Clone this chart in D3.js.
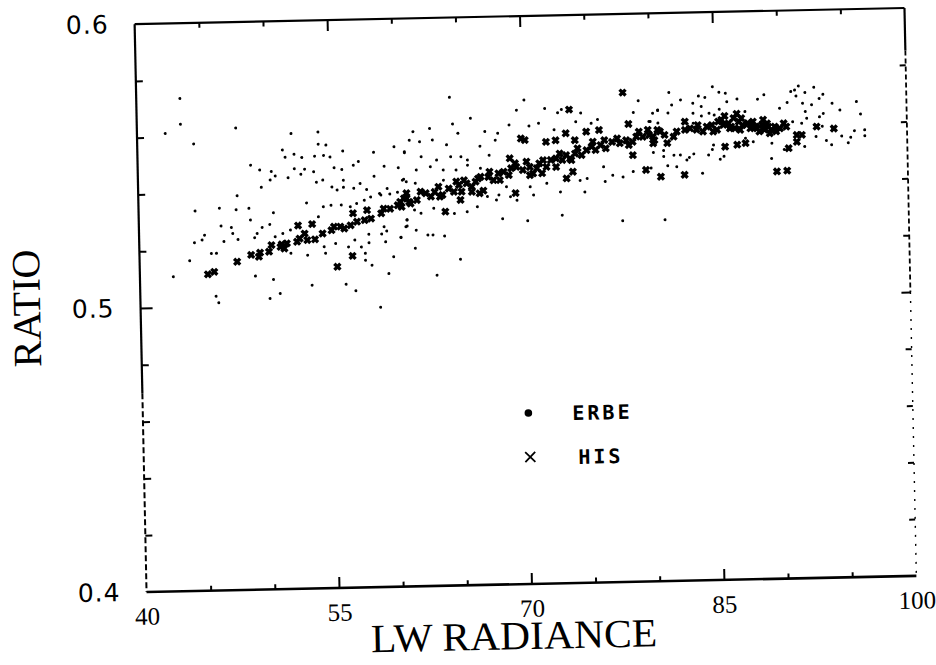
<!DOCTYPE html>
<html>
<head>
<meta charset="utf-8">
<script src="https://cdn.jsdelivr.net/npm/d3@7"></script>
<style>
  html, body { margin: 0; padding: 0; background: #fff; }
  svg { display: block; }
</style>
</head>
<body>
<svg id="chart" width="936" height="665"></svg>
<script>
// ====== LW radiance vs ratio, ERBE / HIS scatter (scanned figure) ======
const xTicks = [40, 55, 70, 85, 100];
const xMajor = [55, 70, 85];
const xMinor = [45, 50, 60, 65, 75, 80, 90, 95];
const yTicks = [0.4, 0.5, 0.6];
const yMinor = [0.42, 0.44, 0.46, 0.48, 0.52, 0.54, 0.56, 0.58];

// ERBE: the wide cloud of small dots  [LW radiance, ratio]
const erbe = [
  [43.4,.5735],[43.4,.5644],[42.2,.5613],[44.4,.5574],[47.7,.5627],[52.0,.5603],[54.1,.5607],[54.1,.5564],
  [54.7,.5560],[51.3,.5546],[52.2,.5530],[51.5,.5520],[52.8,.5518],[53.8,.5522],[54.5,.5524],[55.0,.5518],
  [56.0,.5538],[55.3,.5480],[55.9,.5473],[56.8,.5487],[57.2,.5500],[58.4,.5531],[59.2,.5481],[60.0,.5549],
  [60.3,.5475],[60.8,.5527],[48.8,.5495],[49.5,.5477],[50.4,.5471],[50.7,.5455],[50.3,.5441],[49.6,.5416],
  [51.7,.5448],[52.2,.5479],[52.7,.5459],[53.0,.5477],[53.7,.5467],[53.9,.5430],[54.4,.5437],[55.1,.5412],
  [55.5,.5401],[56.0,.5435],[56.0,.5410],[56.8,.5406],[57.3,.5422],[57.8,.5401],[58.4,.5447],[58.8,.5386],
  [59.4,.5403],[59.6,.5383],[60.2,.5389],[60.6,.5431],[60.9,.5425],[47.7,.5388],[46.3,.5346],[44.4,.5338],
  [48.6,.5343],[47.6,.5339],[46.4,.5283],[47.3,.5256],[47.2,.5277],[48.7,.5302],[49.6,.5275],[50.5,.5326],
  [50.6,.5241],[51.2,.5252],[50.2,.5285],[51.8,.5264],[53.1,.5358],[54.0,.5308],[54.4,.5343],[55.0,.5348],
  [55.8,.5348],[56.5,.5341],[57.0,.5352],[57.6,.5363],[58.1,.5374],[58.9,.5380],[59.1,.5268],[59.3,.5253],
  [58.9,.5243],[57.9,.5243],[57.9,.5213],[60.4,.5229],[60.9,.5269],[60.9,.5290],[45.1,.5252],[44.9,.5235],
  [44.3,.5226],[43.9,.5163],[42.6,.5108],[45.6,.5187],[46.0,.5187],[46.6,.5228],[47.7,.5234],[49.0,.5239],
  [49.2,.5254],[51.8,.5182],[53.1,.5174],[54.5,.5179],[56.05,.5069],[56.8,.5045],[57.6,.5176],[57.6,.5152],
  [58.1,.5134],[59.4,.5103],[59.8,.5162],[59.2,.5215],[58.7,.4985],[53.4,.5068],[50.9,.5041],[50.1,.5024],
  [50.4,.5091],[49.0,.5104],[45.9,.5036],[46.1,.5013],[55.3,.5213],[56.3,.5200],[56.8,.5224],[57.3,.5199],
  [54.4,.5202],
  [64.4,.5719],[70.2,.5704],[69.6,.5669],[71.8,.5673],[72.8,.5657],[73.1,.5668],[74.6,.5654],[79.1,.5693],
  [78.7,.5652],[80.6,.5659],[79.9,.5619],[66.0,.5644],[64.6,.5625],[62.8,.5611],[61.5,.5601],[65.0,.5592],
  [67.1,.5596],[68.1,.5589],[69.0,.5617],[70.55,.5612],[71.3,.5621],[72.5,.5597],[74.2,.5624],[75.4,.5617],
  [75.9,.5630],[61.2,.5571],[62.0,.5565],[63.0,.5570],[64.1,.5552],[66.7,.5545],[67.9,.5565],[60.8,.5531],
  [62.1,.5512],[63.3,.5499],[64.4,.5510],[65.2,.5509],[65.7,.5497],[66.7,.5467],[67.4,.5512],[62.8,.5476],
  [63.8,.5464],[61.7,.5466],[64.8,.5463],[65.7,.5479],[60.7,.5434],[61.6,.5419],[63.8,.5428],[76.3,.5463],
  [77.0,.5433],[77.8,.5426],[78.6,.5444],[75.0,.5423],[74.45,.5417],[74.8,.5376],[76.4,.5411],[72.9,.5378],
  [71.85,.5409],[70.8,.5369],[70.55,.5398],[69.0,.5365],[68.7,.5400],[68.1,.5372],[67.9,.5354],[69.5,.5352],
  [67.2,.5367],[66.4,.5332],[65.6,.5315],[64.6,.5310],[63.0,.5330],[62.0,.5313],[61.5,.5325],[60.9,.5291],
  [60.8,.5267],[61.6,.5254],[62.5,.5236],[62.9,.5236],[63.8,.5231],[60.4,.5230],[61.5,.5190],[65.0,.5148],
  [63.15,.5094],[68.35,.5288],[70.3,.5279],[73.0,.5296],[77.7,.5272],
  [81.5,.5720],[82.4,.5693],[83.8,.5705],[84.3,.5700],[84.9,.5737],[85.4,.5717],[85.9,.5713],[86.8,.5692],
  [86.0,.5683],[83.35,.5680],[84.0,.5668],[81.7,.5676],[80.6,.5657],[80.2,.5648],[81.4,.5648],[83.35,.5645],
  [84.6,.5644],[87.4,.5647],[88.4,.5690],[88.9,.5705],[90.1,.5656],[91.0,.5714],[91.3,.5719],[91.6,.5733],
  [92.1,.5710],[92.8,.5728],[91.4,.5698],[90.7,.5676],[91.9,.5672],[92.6,.5666],[93.2,.5688],[93.5,.5702],
  [94.2,.5670],[93.5,.5635],[94.8,.5646],[96.1,.5674],[96.4,.5630],[92.1,.5643],[92.2,.5619],[93.2,.5623],
  [91.1,.5608],[91.8,.5602],[92.8,.5595],[93.4,.5590],[94.2,.5583],[94.9,.5554],[95.9,.5572],[96.7,.5574],
  [96.7,.5553],[95.6,.5549],[95.4,.5530],[94.1,.5524],[93.7,.5539],[92.9,.5554],[92.0,.5520],[89.45,.5534],
  [90.4,.5511],[89.4,.5480],[84.8,.5516],[85.7,.5491],[85.4,.5481],[84.5,.5497],[83.35,.5502],[83.0,.5490],
  [82.8,.5481],[82.3,.5499],[81.8,.5499],[81.0,.5495],[81.0,.5516],[80.2,.5510],[80.0,.5455],[81.3,.5462],
  [82.0,.5458],[84.0,.5433],[87.4,.5553],[88.0,.5540],[81.0,.5272],[84.9,.5532],[80.0,.5619],[80.6,.5613],
  [83.35,.5610],[84.0,.5635],[85.0,.5637],[85.4,.5657]
];

// HIS: the tight band of heavy crosses
const his = [
  [45.3,.5114],[45.8,.5122],[47.6,.5156],[48.7,.5179],[49.4,.5186],[49.3,.5172],[50.1,.5189],[51.0,.5205],
  [51.3,.5199],[50.3,.5212],[51.5,.5217],[52.3,.5222],[52.5,.5233],[52.9,.5250],[53.1,.5227],[53.7,.5229],
  [54.3,.5249],[55.0,.5260],[55.2,.5272],[55.7,.5272],[56.0,.5265],[56.5,.5276],[56.7,.5318],[57.0,.5288],
  [57.6,.5293],[57.8,.5328],[58.1,.5298],[58.9,.5316],[59.1,.5332],[59.6,.5331],[60.2,.5343],[60.5,.5337],
  [60.9,.5366],[61.1,.5354],[53.5,.5283],[52.4,.5279],[51.1,.5214],[55.4,.5131],[56.6,.5168],
  [60.7,.5367],[61.2,.5348],[61.7,.5360],[62.4,.5383],[62.8,.5371],[63.1,.5387],[63.7,.5376],[64.2,.5398],
  [64.6,.5386],[65.0,.5410],[65.2,.5386],[65.6,.5415],[66.0,.5403],[66.5,.5431],[66.9,.5388],[67.3,.5436],
  [67.7,.5424],[68.1,.5448],[68.2,.5424],[68.9,.5441],[69.1,.5465],[69.5,.5469],[70.0,.5458],[70.55,.5468],
  [71.1,.5463],[71.3,.5480],[71.85,.5467],[72.2,.5491],[72.6,.5496],[73.1,.5490],[73.4,.5507],[73.7,.5495],
  [74.1,.5512],[74.6,.5506],[75.0,.5523],[75.4,.5535],[75.7,.5523],[76.1,.5540],[76.5,.5528],[77.0,.5550],
  [77.6,.5545],[78.1,.5555],[78.6,.5549],[79.1,.5584],[79.4,.5566],[79.9,.5572],[80.3,.5553],[80.55,.5589],
  [69.0,.5500],[69.9,.5569],[70.2,.5563],[71.85,.5555],[72.6,.5560],[73.4,.5584],[74.1,.5559],[73.8,.5489],
  [75.0,.5588],[76.0,.5593],[63.9,.5317],[66.6,.5379],[65.1,.5357],[69.4,.5377],[73.4,.5425],[73.9,.5448],
  [79.6,.5449],[78.6,.5502],[78.3,.5612],[73.7,.5667],[77.9,.5723],
  [60.9,.5385],[62.0,.5389],[63.4,.5405],[64.8,.5422],[65.4,.5426],[66.3,.5420],[67.4,.5454],[68.5,.5453],
  [69.4,.5482],[70.3,.5487],[70.8,.5445],[71.6,.5491],[72.9,.5513],[74.3,.5530],[75.5,.5552],[76.4,.5557],
  [77.4,.5562],[78.3,.5538],[78.9,.5567],[79.8,.5590],[80.2,.5542],[60.4,.5355],[66.0,.5385],[66.7,.5437],
  [63.5,.5370],[72.6,.5466],[71.5,.5445],[70.55,.5439],
  [80.2,.5566],[80.75,.5583],[81.1,.5571],[81.3,.5542],[81.8,.5564],[82.05,.5582],[82.7,.5587],[83.1,.5592],
  [83.7,.5603],[84.1,.5580],[84.4,.5597],[84.8,.5602],[85.2,.5585],[85.55,.5620],[85.7,.5602],[86.1,.5607],
  [86.5,.5625],[86.6,.5589],[86.9,.5612],[87.2,.5600],[87.6,.5606],[88.0,.5611],[88.3,.5587],[88.7,.5599],
  [88.9,.5582],[89.2,.5592],[89.45,.5581],[89.7,.5592],[90.1,.5585],[90.6,.5591],[82.7,.5616],[85.8,.5633],
  [86.75,.5640],[91.4,.5561],[91.8,.5561],[91.4,.5537],[85.8,.5525],[86.75,.5531],[87.4,.5536],[90.75,.5515],
  [92.96,.5589],[94.3,.5581],[80.75,.5424],[82.6,.5429],[89.8,.5434],[90.6,.5436],
  [83.6,.5587],[84.9,.5579],[86.2,.5589],[87.0,.5583],[87.8,.5588],[88.5,.5576],[89.1,.5604],[89.8,.5575],
  [90.4,.5603],[85.3,.5614],[86.3,.5595],[87.1,.5624],[88.2,.5593],[88.8,.5617],[89.3,.5569]
];

const legendLabels = ["ERBE", "HIS"];

const svg = d3.select("#chart");
const tilt = -1.2;                       // the scanned page sits slightly rotated
const x = d3.scaleLinear().domain([40, 100]).range([140.5, 910.5]);
const y = d3.scaleLinear().domain([0.4, 0.6]).range([584, 16]);

const g = svg.append("g").attr("transform", `rotate(${tilt},525.5,300)`);

// ---------- ticks (inward) ----------
function tickAxis(axis, transform){
  g.append("g").attr("transform", transform).call(axis)
    .call(s => s.select(".domain").remove())
    .call(s => s.selectAll(".tick line").attr("stroke", "#000").attr("stroke-width", 2));
}
const bottomT = `translate(0,${y(0.4)})`, topT = `translate(0,${y(0.6)})`;
const leftT = `translate(${x(40)},0)`, rightT = `translate(${x(100)},0)`;

tickAxis(d3.axisBottom(x).tickValues(xMinor).tickSize(-5).tickFormat(""), bottomT);
tickAxis(d3.axisBottom(x).tickValues(xMajor).tickSize(-11).tickFormat(""), bottomT);
tickAxis(d3.axisTop(x).tickValues(xMinor).tickSize(-5).tickFormat(""), topT);
tickAxis(d3.axisTop(x).tickValues(xMajor).tickSize(-11).tickFormat(""), topT);
tickAxis(d3.axisLeft(y).tickValues(yMinor).tickSize(-7).tickFormat(""), leftT);
tickAxis(d3.axisLeft(y).tickValues([0.5]).tickSize(-12).tickFormat(""), leftT);
tickAxis(d3.axisRight(y).tickValues(yMinor).tickSize(-6).tickFormat(""), rightT);
tickAxis(d3.axisRight(y).tickValues([0.5]).tickSize(-9).tickFormat(""), rightT);

// tick labels
g.append("g").attr("transform", bottomT)
  .call(d3.axisBottom(x).tickValues(xTicks).tickSize(0).tickPadding(15).tickFormat(d3.format("d")))
  .call(s => s.select(".domain").remove())
  .call(s => s.selectAll("text").attr("fill", "#000")
    .attr("font-family", "'Liberation Serif', serif").attr("font-size", 25));

g.append("g").attr("transform", leftT)
  .call(d3.axisLeft(y).tickValues(yTicks).tickSize(0).tickPadding(26).tickFormat(d3.format(".1f")))
  .call(s => s.select(".domain").remove())
  .call(s => s.selectAll("text").attr("fill", "#000")
    .attr("font-family", "'DejaVu Sans', sans-serif").attr("font-size", 25).attr("letter-spacing", 1));

// ---------- frame (scan leaves the right side and the foot of the left side broken) ----------
function edge(x1, y1, x2, y2, w, dash){
  g.append("line").attr("x1", x1).attr("y1", y1).attr("x2", x2).attr("y2", y2)
    .attr("stroke", "#000").attr("stroke-width", w)
    .attr("stroke-dasharray", dash || null);
}
edge(x(40), y(0.6), x(100), y(0.6), 2.2);
edge(x(40), y(0.4), x(100), y(0.4), 2.6);
edge(x(40), y(0.6), x(40), y(0.47), 2.2);
edge(x(40), y(0.47), x(40), y(0.4), 2, "6,3");
edge(x(100), y(0.6), x(100), y(0.585), 2.2);
edge(x(100), y(0.585), x(100), y(0.5), 1.8, "5,3");
edge(x(100), y(0.5), x(100), y(0.4), 1.4, "2,7");

// ---------- data ----------
g.append("g").selectAll("circle").data(erbe).join("circle")
  .attr("cx", d => x(d[0])).attr("cy", d => y(d[1]))
  .attr("r", 1.5).attr("fill", "#000");

const cross = a => `M${-a},${-a}L${a},${a}M${-a},${a}L${a},${-a}`;
g.append("g").selectAll("path").data(his).join("path")
  .attr("transform", d => `translate(${x(d[0])},${y(d[1])})`)
  .attr("d", cross(3))
  .attr("fill", "none").attr("stroke", "#000").attr("stroke-width", 3.3);

// ---------- legend ----------
const legend = g.append("g").attr("transform", "translate(526,413)");
legend.append("circle").attr("cx", 0).attr("cy", 0).attr("r", 3.8).attr("fill", "#000");
legend.append("path").attr("transform", "translate(1,44)").attr("d", cross(5))
  .attr("stroke", "#000").attr("stroke-width", 1.8).attr("fill", "none");
legend.selectAll("text").data(legendLabels).join("text")
  .attr("x", (d, i) => i === 0 ? 44 : 49)
  .attr("y", (d, i) => i * 44 + 8)
  .attr("font-family", "'DejaVu Sans Mono', monospace").attr("font-weight", "bold")
  .attr("font-size", 20).attr("letter-spacing", 3).attr("fill", "#000")
  .text(d => d);

// ---------- axis titles ----------
g.append("text")
  .attr("x", 507).attr("y", 649)
  .attr("text-anchor", "middle")
  .attr("font-family", "'Liberation Serif', serif").attr("font-size", 40)
  .attr("textLength", 286).attr("lengthAdjust", "spacingAndGlyphs")
  .attr("fill", "#000")
  .text("LW RADIANCE");

g.append("text")
  .attr("transform", "translate(40,298) rotate(-90)")
  .attr("text-anchor", "middle")
  .attr("font-family", "'Liberation Serif', serif").attr("font-size", 40)
  .attr("fill", "#000")
  .text("RATIO");
</script>
</body>
</html>
